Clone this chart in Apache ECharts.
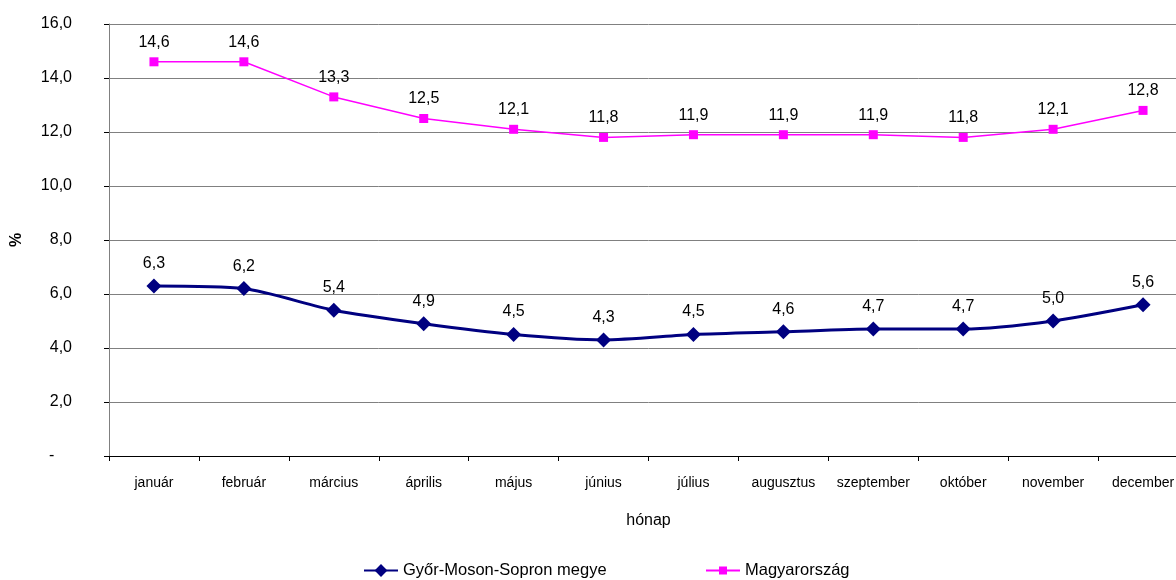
<!DOCTYPE html>
<html>
<head>
<meta charset="utf-8">
<script src="https://cdn.jsdelivr.net/npm/echarts@6/dist/echarts.min.js"></script>
<style>html,body{margin:0;padding:0;background:#fff;overflow:hidden;width:1176px;height:580px}#c{width:1188px;height:580px}</style>
</head>
<body>
<div id="c"></div>
<script>
const categories = ['január','február','március','április','május','június','július','augusztus','szeptember','október','november','december'];
const gyor = [6.3, 6.2, 5.4, 4.9, 4.5, 4.3, 4.5, 4.6, 4.7, 4.7, 5.0, 5.6];
const hungary = [14.6, 14.6, 13.3, 12.5, 12.1, 11.8, 11.9, 11.9, 11.9, 11.8, 12.1, 12.8];
const seriesNames = ['Győr-Moson-Sopron megye', 'Magyarország'];
const fmt = v => v.toFixed(1).replace('.', ',');
const font = '"Liberation Sans", Arial, sans-serif';
const chart = echarts.init(document.getElementById('c'));
chart.setOption({
  animation: false,
  textStyle: {fontFamily: font},
  grid: {left: 109, right: 0, top: 24, bottom: 124, containLabel: false},
  legend: [
    {data: [seriesNames[0]], left: 363, top: 562, padding: 0, itemWidth: 34, itemHeight: 16, textStyle: {fontFamily: font, fontSize: 16.5, color: '#000'}},
    {data: [seriesNames[1]], left: 705, top: 562, padding: 0, itemWidth: 34, itemHeight: 10, textStyle: {fontFamily: font, fontSize: 16.5, color: '#000'}}
  ],
  xAxis: {
    type: 'category', data: categories, boundaryGap: true,
    name: 'hónap', nameLocation: 'middle', nameGap: 57,
    nameTextStyle: {fontFamily: font, fontSize: 16, color: '#000'},
    axisLine: {lineStyle: {color: '#000', width: 1}},
    axisTick: {show: true, alignWithLabel: false, length: 5, lineStyle: {color: '#000'}},
    axisLabel: {fontFamily: font, fontSize: 14, color: '#000', margin: 20, interval: 0}
  },
  yAxis: {
    type: 'value', min: 0, max: 16, interval: 2,
    name: '%', nameLocation: 'middle', nameGap: 84, nameRotate: 90,
    nameTextStyle: {fontFamily: font, fontSize: 16, fontWeight: 'bold', color: '#000'},
    axisLine: {show: true, lineStyle: {color: '#808080', width: 1}},
    axisTick: {show: true, length: 5, lineStyle: {color: '#000'}},
    splitLine: {lineStyle: {color: '#808080', width: 1}},
    axisLabel: {fontFamily: font, fontSize: 16, color: '#000', margin: 37,
      formatter: v => v === 0 ? '-\u00a0\u00a0\u00a0\u00a0' : fmt(v)}
  },
  series: [
    {
      name: seriesNames[0], type: 'line', data: gyor, smooth: 0.25,
      symbol: 'diamond', symbolSize: 15,
      itemStyle: {color: '#000080'}, lineStyle: {color: '#000080', width: 3},
      label: {show: true, position: 'top', distance: 7, fontFamily: font, fontSize: 16, color: '#000', formatter: p => fmt(p.value)}
    },
    {
      name: seriesNames[1], type: 'line', data: hungary, smooth: false,
      symbol: 'rect', symbolSize: 9,
      itemStyle: {color: '#FF00FF'}, lineStyle: {color: '#FF00FF', width: 1.5},
      label: {show: true, position: 'top', distance: 7, fontFamily: font, fontSize: 16, color: '#000', formatter: p => fmt(p.value)}
    }
  ]
});
</script>
</body>
</html>
